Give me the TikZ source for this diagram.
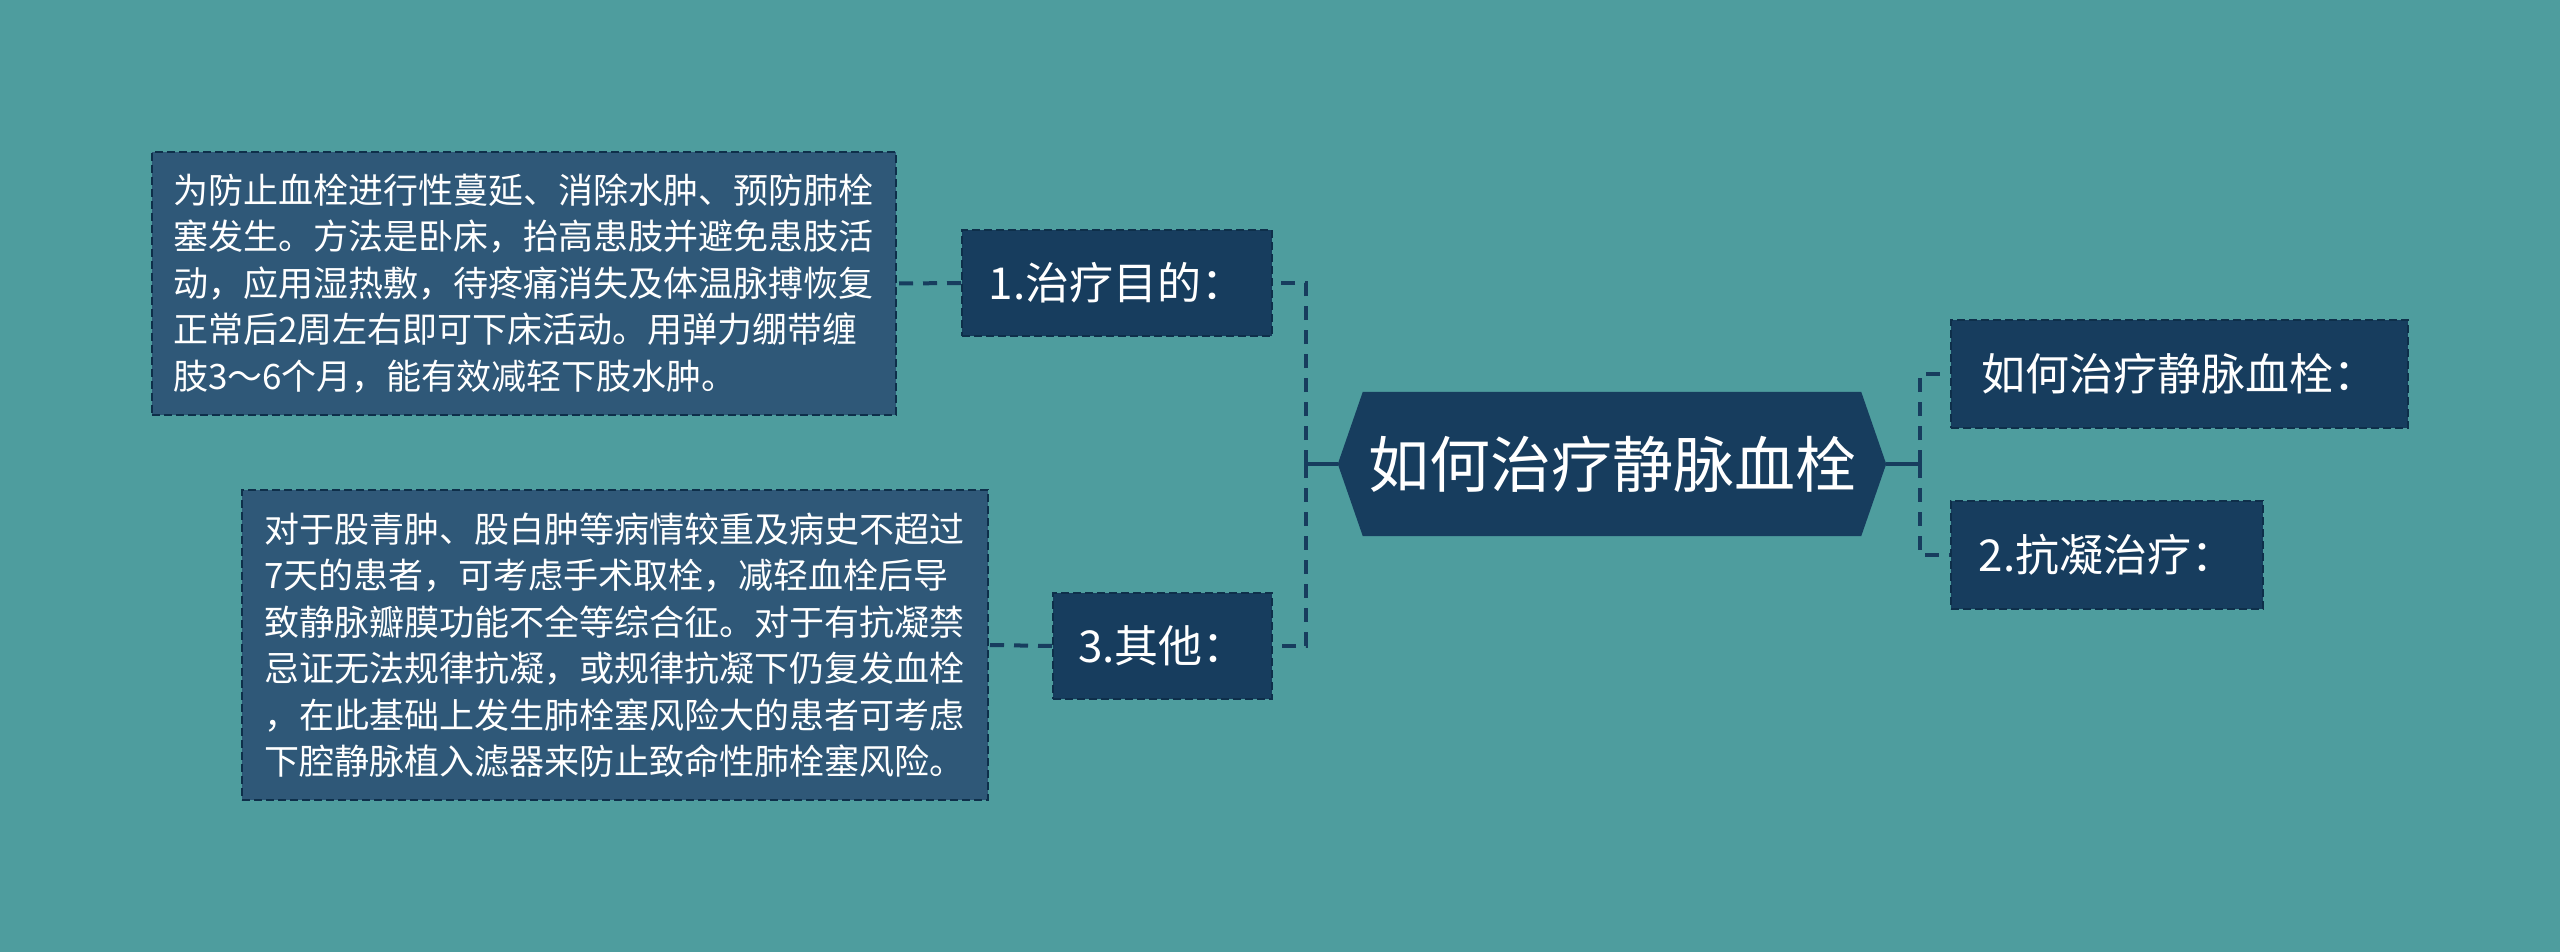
\documentclass[tikz,border=0pt]{standalone}
\usepackage{fontspec}
\newfontfamily\cjk{Noto Sans CJK SC}
\usetikzlibrary{backgrounds}
\definecolor{bg}{RGB}{78,157,158}
\definecolor{navy}{RGB}{23,61,94}
\definecolor{leaffill}{RGB}{47,88,120}
\definecolor{edgec}{RGB}{14,47,74}
\begin{document}
\begin{tikzpicture}[x=1pt,y=-1pt,
  box/.style={draw=edgec, line width=2pt, dash pattern=on 8pt off 4pt, text=white, inner sep=0pt,
    font=\cjk\fontsize{44pt}{52pt}\selectfont, fill=navy},
  leafbox/.style={box, fill=leaffill, align=left, font=\cjk\fontsize{35pt}{46.5pt}\selectfont, text width=702pt},
  conn/.style={draw=navy, line width=4pt},
  dconn/.style={conn, dash pattern=on 14pt off 10pt}
]
\begin{scope}[on background layer]
\fill[bg] (0,0) rectangle (2560,952);
\end{scope}
\useasboundingbox (0,0) rectangle (2560,952);

\node[text=white, font=\cjk\fontsize{61pt}{70pt}\selectfont, minimum width=498pt, minimum height=144pt, inner sep=0pt] (root) at (1612,464) {如何治疗静脉血栓};
\begin{scope}[on background layer]
\fill[navy] (root.north west) -- (root.north east) -- ([xshift=25pt]root.east) -- (root.south east) -- (root.south west) -- ([xshift=-25pt]root.west) -- cycle;
\end{scope}

\node[box, minimum width=310pt, minimum height=106pt] (n1) at (1117,283) {1.治疗目的：};
\node[box, minimum width=219pt, minimum height=106pt] (n3) at (1162.5,646) {3.其他：};
\node[box, minimum width=457pt, minimum height=108pt] (r1) at (2179.5,374) {如何治疗静脉血栓：};
\node[box, minimum width=312pt, minimum height=108pt] (r2) at (2107,555) {2.抗凝治疗：};

\node[leafbox, minimum width=744pt, minimum height=263pt] (leaf1) at (524,283.5) {为防止血栓进行性蔓延、消除水肿、预防肺栓\\塞发生。方法是卧床，抬高患肢并避免患肢活\\动，应用湿热敷，待疼痛消失及体温脉搏恢复\\正常后2周左右即可下床活动。用弹力绷带缠\\肢3～6个月，能有效减轻下肢水肿。};
\node[leafbox, minimum width=746pt, minimum height=310pt] (leaf2) at (615,645) {对于股青肿、股白肿等病情较重及病史不超过\\7天的患者，可考虑手术取栓，减轻血栓后导\\致静脉瓣膜功能不全等综合征。对于有抗凝禁\\忌证无法规律抗凝，或规律抗凝下仍复发血栓\\，在此基础上发生肺栓塞风险大的患者可考虑\\下腔静脉植入滤器来防止致命性肺栓塞风险。};

\coordinate (jl) at (1306,464);
\coordinate (jr) at (1920,464);
\draw[conn] ([xshift=-25pt]root.west) -- (jl);
\draw[conn] ([xshift=25pt]root.east) -- (jr);
\draw[dconn] (jl) |- (n1.east);
\draw[dconn] (jl) |- (n3.east);
\draw[dconn] (jr) |- (r1.west);
\draw[dconn] (jr) |- (r2.west);
\draw[dconn] (n1.west) -- (leaf1.east);
\draw[dconn] (n3.west) -- (leaf2.east);
\end{tikzpicture}
\end{document}
